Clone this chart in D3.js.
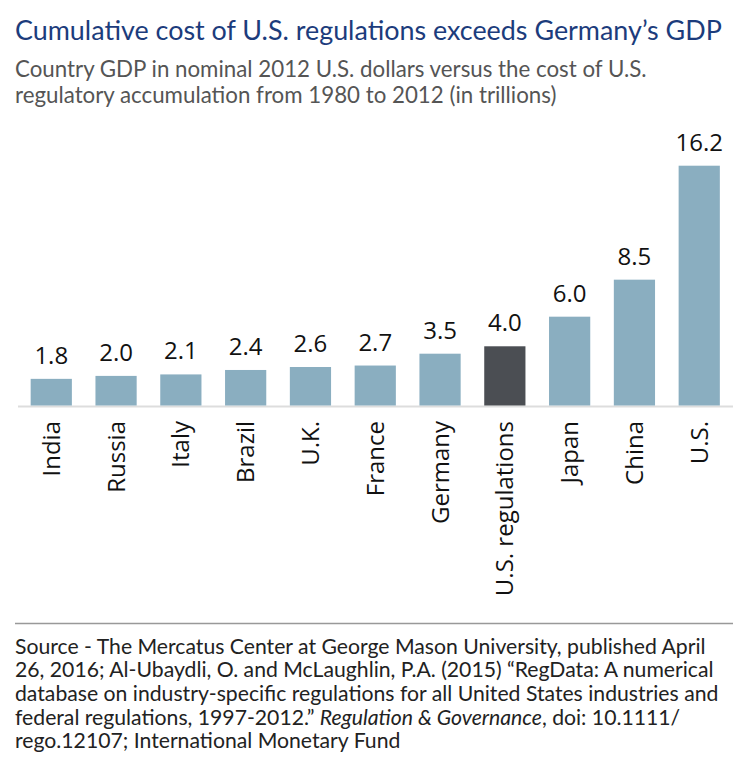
<!DOCTYPE html>
<html>
<head>
<meta charset="utf-8">
<script src="https://cdn.jsdelivr.net/npm/d3@7"></script>
<style>
  html, body { margin: 0; padding: 0; background: #ffffff; }
  svg { display: block; }
</style>
</head>
<body>
<svg id="chart" width="744" height="762"></svg>
<script>
const categories = ["India", "Russia", "Italy", "Brazil", "U.K.", "France", "Germany", "U.S. regulations", "Japan", "China", "U.S."];
const values = [1.8, 2.0, 2.1, 2.4, 2.6, 2.7, 3.5, 4.0, 6.0, 8.5, 16.2];
const highlighted = ["U.S. regulations"];

const title = "Cumulative cost of U.S. regulations exceeds Germany\u2019s GDP";
const subtitleLines = [
  "Country GDP in nominal 2012 U.S. dollars versus the cost of U.S.",
  "regulatory accumulation from 1980 to 2012 (in trillions)"
];
const sourceLines = [
  [{t: "Source - The Mercatus Center at George Mason University, published April"}],
  [{t: "26, 2016; Al-Ubaydli, O. and McLaughlin, P.A. (2015) \u201CRegData: A numerical"}],
  [{t: "database on industry-specific regulations for all United States industries and"}],
  [{t: "federal regulations, 1997-2012.\u201D "}, {t: "Regulation & Governance", i: true}, {t: ", doi: 10.1111/"}],
  [{t: "rego.12107; International Monetary Fund"}]
];

const svg = d3.select("#chart");
const headFont = "Lato, 'Noto Sans', sans-serif";
const labelFont = "'Open Sans', 'Noto Sans', sans-serif";

svg.append("text")
  .attr("x", 15).attr("y", 40)
  .attr("font-family", headFont).attr("font-size", 26.9)
  .attr("fill", "#1c3c7c")
  .text(title);

svg.selectAll("text.sub").data(subtitleLines).join("text")
  .attr("class", "sub")
  .attr("x", 15).attr("y", (d, i) => 77 + i * 25.5)
  .attr("font-family", headFont).attr("font-size", 22.3)
  .attr("fill", "#555555")
  .text(d => d);

const baseY = 405.5;
const x = d3.scaleBand().domain(categories).range([17.7, 732.8]).paddingInner(0.364).paddingOuter(0.2);
const y = d3.scaleLinear().domain([0, 16.2]).range([baseY, 165.7]);

svg.append("line")
  .attr("x1", 18).attr("x2", 733)
  .attr("y1", baseY + 1).attr("y2", baseY + 1)
  .attr("stroke", "#dddddd").attr("stroke-width", 2);

svg.selectAll("rect.bar").data(categories).join("rect")
  .attr("class", "bar")
  .attr("x", d => x(d))
  .attr("width", x.bandwidth())
  .attr("y", (d, i) => y(values[i]))
  .attr("height", (d, i) => baseY - y(values[i]))
  .attr("fill", d => highlighted.includes(d) ? "#4b4e53" : "#8aaec0");

svg.selectAll("text.val").data(categories).join("text")
  .attr("class", "val")
  .attr("x", d => x(d) + x.bandwidth() / 2)
  .attr("y", (d, i) => y(values[i]) - 15)
  .attr("text-anchor", "middle")
  .attr("font-family", labelFont).attr("font-size", 24)
  .attr("fill", "#111111")
  .text((d, i) => values[i].toFixed(1));

svg.selectAll("text.cat").data(categories).join("text")
  .attr("class", "cat")
  .attr("transform", d => `translate(${x(d) + x.bandwidth() / 2 + 8.5}, 421) rotate(-90)`)
  .attr("text-anchor", "end")
  .attr("font-family", labelFont).attr("font-size", 24)
  .attr("fill", "#111111")
  .text(d => d);

svg.append("line")
  .attr("x1", 15).attr("x2", 733)
  .attr("y1", 623.5).attr("y2", 623.5)
  .attr("stroke", "#999999").attr("stroke-width", 1.5);

const src = svg.selectAll("text.src").data(sourceLines).join("text")
  .attr("class", "src")
  .attr("x", 15).attr("y", (d, i) => 653.5 + i * 23.7)
  .attr("font-family", headFont).attr("font-size", 21.2)
  .attr("fill", "#222222");
src.selectAll("tspan").data(d => d).join("tspan")
  .attr("font-style", d => d.i ? "italic" : "normal")
  .text(d => d.t);
</script>
</body>
</html>
